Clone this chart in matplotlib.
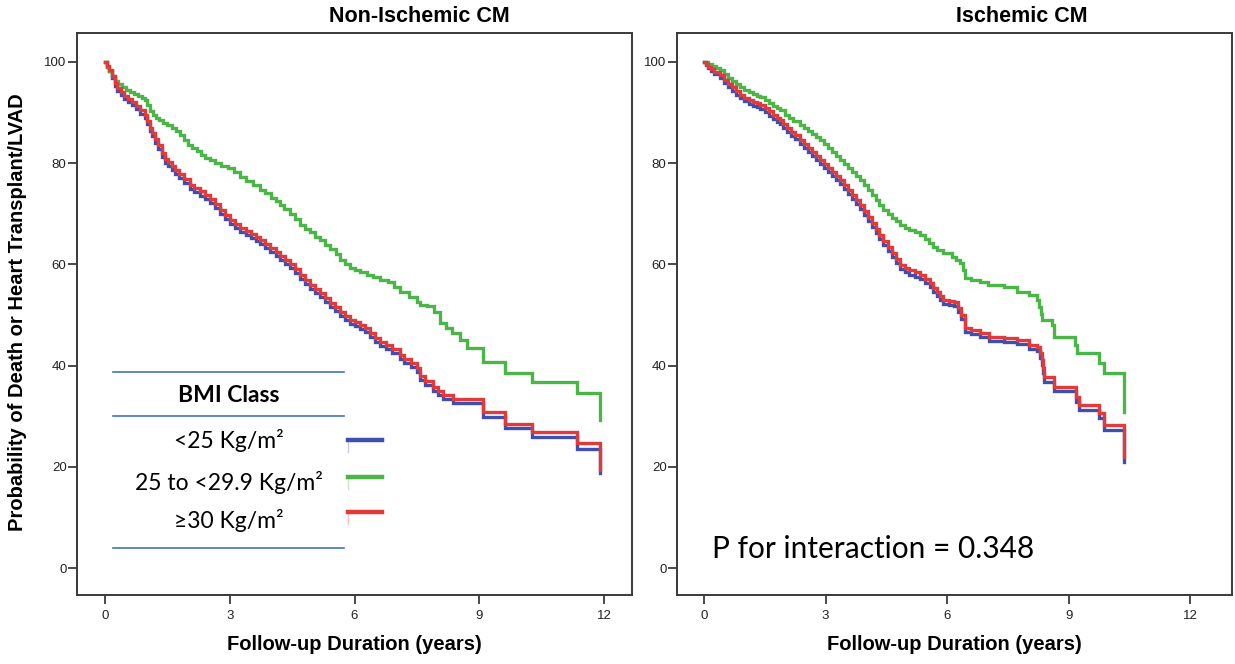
import matplotlib
matplotlib.use("Agg")
import matplotlib.pyplot as plt
from matplotlib.lines import Line2D

# ---------------- data ----------------
groups = ["<25 Kg/m²", "25 to <29.9 Kg/m²", "≥30 Kg/m²"]
panel_titles = ["Non-Ischemic CM", "Ischemic CM"]
x_ticks = [0, 3, 6, 9, 12]
y_ticks = [0, 20, 40, 60, 80, 100]

# ---- Non-Ischemic CM ----
nic_t_main = [0, .05, .1, .17, .24, .3, .38, .45, .55, .65,
              .75, .85, .96, 1.02, 1.08, 1.14, 1.2, 1.28, 1.36, 1.44,
              1.52, 1.6, 1.68, 1.78, 1.9, 2.04, 2.15, 2.28, 2.4, 2.52,
              2.64, 2.76, 2.88, 3.0, 3.12, 3.25, 3.38, 3.5, 3.62, 3.73,
              3.85, 3.97, 4.1, 4.2, 4.32, 4.45, 4.57, 4.69, 4.8, 4.93,
              5.05, 5.17, 5.28, 5.4, 5.52, 5.65, 5.78, 5.9, 6.0, 6.12,
              6.25, 6.38, 6.5, 6.62, 6.75, 6.9, 7.09, 7.2, 7.35, 7.5,
              7.57, 7.7, 7.88, 8.0, 8.13, 8.37, 9.09, 9.62, 10.26, 11.35,
              11.9]
nic_red = [100, 99.2, 98.4, 97.2, 95.8, 94.9, 94.0, 93.2, 92.6, 92.0,
           91.3, 90.5, 89.6, 88.4, 87.0, 86.0, 84.8, 83.6, 82.0, 80.8,
           80.2, 79.5, 78.7, 77.8, 76.8, 75.7, 75.1, 74.4, 73.7, 72.9,
           72.0, 70.8, 69.8, 68.8, 67.9, 67.2, 66.6, 66.0, 65.4, 64.8,
           64.0, 63.2, 62.4, 61.6, 60.9, 60.0, 59.0, 57.9, 57.0, 56.0,
           55.2, 54.3, 53.4, 52.4, 51.5, 50.6, 49.8, 49.1, 48.6, 48.1,
           47.5, 46.5, 45.4, 44.6, 44.0, 43.2, 42.2, 41.4, 40.6, 39.5,
           38.0, 37.0, 35.8, 35.0, 34.2, 33.4, 30.8, 28.5, 26.9, 24.7,
           19.4]
nic_blue = [100, 99.0, 98.1, 96.8, 95.3, 94.3, 93.4, 92.6, 92.0, 91.4,
            90.6, 89.8, 88.9, 87.7, 86.3, 85.3, 84.0, 82.8, 81.2, 80.0,
            79.4, 78.7, 77.9, 77.0, 76.0, 74.9, 74.3, 73.6, 72.9, 72.1,
            71.2, 70.0, 69.0, 68.0, 67.1, 66.4, 65.8, 65.2, 64.6, 64.0,
            63.2, 62.4, 61.6, 60.8, 60.1, 59.2, 58.2, 57.1, 56.2, 55.2,
            54.4, 53.5, 52.6, 51.6, 50.7, 49.8, 49.0, 48.3, 47.8, 47.3,
            46.7, 45.7, 44.6, 43.8, 43.2, 42.4, 41.4, 40.6, 39.8, 38.7,
            37.2, 36.2, 35.0, 34.2, 33.4, 32.6, 29.9, 27.6, 26.0, 23.5,
            18.8]
nic_t_green = [0, .05, .1, .18, .25, .32, .4, .5, .6, .7,
               .8, .9, .96, 1.02, 1.08, 1.15, 1.22, 1.3, 1.4, 1.5,
               1.6, 1.7, 1.8, 1.9, 2.0, 2.1, 2.2, 2.3, 2.4, 2.52,
               2.65, 2.8, 2.95, 3.1, 3.25, 3.4, 3.55, 3.73, 3.85, 4.0,
               4.1, 4.2, 4.3, 4.45, 4.57, 4.69, 4.8, 4.93, 5.05, 5.17,
               5.3, 5.42, 5.55, 5.65, 5.78, 5.9, 6.02, 6.13, 6.3, 6.45,
               6.6, 6.8, 6.95, 7.1, 7.3, 7.5, 7.57, 7.75, 7.9, 8.05,
               8.2, 8.35, 8.53, 8.7, 9.09, 9.62, 10.26, 11.35, 11.9]
nic_green = [100, 99.0, 98.2, 97.2, 96.3, 95.6, 95.0, 94.5, 94.0, 93.6,
             93.2, 92.8, 92.5, 91.5, 90.3, 89.5, 89.0, 88.5, 88.0, 87.5,
             87.0, 86.3, 85.5, 84.5, 83.6, 83.0, 82.3, 81.6, 81.0, 80.6,
             80.0, 79.5, 79.0, 78.3, 77.2, 76.5, 75.6, 74.7, 74.0, 73.2,
             72.5, 71.7, 71.0, 70.0, 69.0, 67.8, 67.0, 66.3, 65.5, 64.8,
             63.8, 63.0, 62.0, 60.9, 60.0, 59.3, 58.8, 58.5, 58.0, 57.6,
             57.0, 56.6, 55.5, 54.5, 53.5, 52.5, 52.0, 51.8, 50.5, 48.5,
             47.5, 46.5, 45.0, 43.5, 40.7, 38.5, 36.8, 34.6, 29.2]

# ---- Ischemic CM ----
ic_t_main = [0, .05, .1, .18, .26, .39, .5, .6, .7, .8,
             .89, 1.0, 1.1, 1.2, 1.3, 1.38, 1.5, 1.6, 1.7, 1.8,
             1.87, 1.95, 2.05, 2.15, 2.25, 2.36, 2.46, 2.56, 2.66, 2.76,
             2.86, 2.96, 3.06, 3.16, 3.26, 3.35, 3.45, 3.55, 3.65, 3.75,
             3.84, 3.94, 4.04, 4.14, 4.24, 4.33, 4.43, 4.53, 4.63, 4.73,
             4.83, 4.95, 5.07, 5.2, 5.32, 5.45, 5.57, 5.65, 5.74, 5.82,
             5.89, 6.05, 6.18, 6.27, 6.35, 6.43, 6.6, 6.8, 7.04, 7.4,
             7.73, 8.03, 8.23, 8.28, 8.33, 8.37, 8.4, 8.65, 9.19, 9.26,
             9.75, 9.88, 10.37]
ic_red = [100, 99.5, 99.0, 98.5, 98.0, 97.4, 96.5, 95.6, 95.0, 94.2,
          93.5, 92.9, 92.5, 92.1, 91.8, 91.5, 90.8, 90.2, 89.6, 89.0,
          88.5, 87.8, 87.0, 86.2, 85.5, 84.6, 83.8, 83.0, 82.2, 81.4,
          80.6, 79.8, 79.0, 78.2, 77.4, 76.7, 75.7, 74.7, 73.7, 72.7,
          71.7, 70.6, 69.4, 68.2, 67.0, 65.8, 64.6, 63.4, 62.3, 61.1,
          59.9, 59.3, 58.8, 58.4, 57.9, 57.1, 56.3, 55.4, 54.5, 53.8,
          53.0, 52.8, 52.6, 51.3, 50.0, 47.4, 47.0, 46.4, 45.7, 45.5,
          45.1, 44.1, 43.7, 42.5, 41.1, 39.5, 37.7, 35.8, 33.8, 32.2,
          30.6, 28.3, 21.9]
ic_blue = [100, 99.4, 98.8, 98.2, 97.6, 96.9, 95.9, 95.0, 94.3, 93.5,
           92.8, 92.2, 91.7, 91.3, 91.0, 90.7, 90.0, 89.4, 88.8, 88.2,
           87.7, 87.0, 86.2, 85.4, 84.7, 83.8, 83.0, 82.2, 81.4, 80.6,
           79.8, 79.0, 78.2, 77.4, 76.6, 75.9, 74.9, 73.9, 72.9, 71.9,
           70.9, 69.8, 68.6, 67.4, 66.2, 65.0, 63.8, 62.6, 61.5, 60.3,
           59.1, 58.5, 58.0, 57.6, 57.1, 56.3, 55.5, 54.6, 53.7, 53.0,
           52.2, 52.0, 51.8, 50.5, 49.2, 46.6, 46.2, 45.6, 44.9, 44.7,
           44.3, 43.2, 42.8, 41.6, 40.2, 38.6, 36.8, 34.9, 32.9, 31.3,
           29.6, 27.3, 20.9]
ic_t_green = [0, .1, .2, .3, .39, .5, .6, .7, .8, .89,
              1.0, 1.1, 1.2, 1.3, 1.38, 1.5, 1.6, 1.7, 1.8, 1.87,
              2.0, 2.1, 2.2, 2.36, 2.46, 2.56, 2.66, 2.76, 2.86, 2.96,
              3.06, 3.16, 3.26, 3.35, 3.45, 3.55, 3.65, 3.75, 3.84, 3.94,
              4.04, 4.14, 4.24, 4.33, 4.43, 4.53, 4.63, 4.73, 4.83, 4.95,
              5.07, 5.2, 5.32, 5.45, 5.55, 5.65, 5.74, 5.9, 6.13, 6.22,
              6.31, 6.38, 6.43, 6.6, 6.8, 7.0, 7.4, 7.73, 8.03, 8.23,
              8.27, 8.31, 8.35, 8.6, 8.65, 9.15, 9.21, 9.75, 9.88, 10.37]
ic_green = [100, 99.6, 99.2, 98.8, 98.4, 97.6, 96.8, 96.2, 95.6, 95.0,
            94.5, 94.0, 93.6, 93.3, 93.0, 92.4, 91.8, 91.2, 90.8, 90.5,
            89.6, 89.0, 88.4, 87.5, 86.9, 86.3, 85.7, 85.1, 84.6, 83.8,
            83.0, 82.2, 81.4, 80.6, 79.8, 79.0, 78.2, 77.4, 76.7, 75.7,
            74.7, 73.7, 72.7, 71.7, 70.8, 70.0, 69.2, 68.5, 67.8, 67.2,
            66.8, 66.3, 65.8, 65.0, 64.3, 63.5, 62.8, 62.3, 61.5, 60.9,
            60.3, 58.8, 57.3, 57.0, 56.5, 55.9, 55.6, 54.5, 54.0, 53.0,
            51.5, 50.2, 49.0, 48.0, 45.7, 44.0, 42.5, 40.5, 38.5, 30.8]

p_text = "P for interaction = 0.348"
y_label = "Probability of Death or Heart Transplant/LVAD"
x_label = "Follow-up Duration (years)"

# ---------------- style ----------------
c_blue = "#3d4fb0"
c_green = "#4bb548"
c_red = "#e23a3a"
spine_c = "#3a3a3a"
W, H = 1235, 664

fig = plt.figure(figsize=(W / 100, H / 100), dpi=100)
fig.patch.set_facecolor("white")

axL = fig.add_axes([77 / W, 1 - 595 / H, 555 / W, 562 / H])
axR = fig.add_axes([677 / W, 1 - 595 / H, 555 / W, 562 / H])


def km(ax, t, v, color, z):
    ax.plot(t, v, drawstyle="steps-post", color=color, lw=2.4, zorder=z,
            solid_joinstyle="miter")


km(axL, nic_t_main, nic_blue, c_blue, 3)
km(axL, nic_t_green, nic_green, c_green, 4)
km(axL, nic_t_main, nic_red, c_red, 5)

km(axR, ic_t_main, ic_blue, c_blue, 3)
km(axR, ic_t_green, ic_green, c_green, 4)
km(axR, ic_t_main, ic_red, c_red, 5)

for ax, xr in ((axL, (-0.673, 12.67)), (axR, (-0.665, 13.03))):
    ax.set_xlim(*xr)
    ax.set_ylim(-5.3, 105.7)
    ax.set_xticks(x_ticks)
    ax.set_yticks(y_ticks)
    ax.tick_params(direction="out", length=6.5, width=1.3, color=spine_c,
                   labelsize=9.5, labelcolor="#222222")
    ax.tick_params(axis="y", pad=1)
    ax.tick_params(axis="x", pad=4)
    for lab in ax.get_xticklabels() + ax.get_yticklabels():
        lab.set_family("Liberation Sans")
    for s in ax.spines.values():
        s.set_color(spine_c)
        s.set_linewidth(1.4)
    ax.set_xlabel(x_label, fontsize=14.5, fontweight="bold", family="Liberation Sans",
                  labelpad=10)

fig.text(18 / W, 1 - 312 / H, y_label, rotation=90, ha="center", va="center",
         fontsize=14.5, fontweight="bold", family="Liberation Sans")
fig.text(419 / W, 1 - 16 / H, panel_titles[0], ha="center", va="center",
         fontsize=15.5, fontweight="bold", family="Liberation Sans")
fig.text(1022 / W, 1 - 16 / H, panel_titles[1], ha="center", va="center",
         fontsize=15.5, fontweight="bold", family="Liberation Sans")

# legend table
tfam = ["Lato", "DejaVu Sans"]
for yy in (372, 416, 548):
    fig.add_artist(Line2D([113 / W, 344 / W], [1 - yy / H, 1 - yy / H],
                          color="#4472c4", lw=1.2))
fig.text(229 / W, 1 - 395 / H, "BMI Class", ha="center", va="center",
         fontsize=16.5, fontweight="bold", family=tfam)
legend_y = [440, 482, 521]
swatch_y = [440, 477, 512]
for name, ty, sy, col in zip(groups, legend_y, swatch_y, (c_blue, c_green, c_red)):
    fig.text(229 / W, 1 - ty / H, name, ha="center", va="center",
             fontsize=16.5, family=tfam)
    fig.add_artist(Line2D([348 / W, 382 / W], [1 - sy / H, 1 - sy / H],
                          color=col, lw=3.2))
    fig.add_artist(Line2D([348.5 / W, 348.5 / W], [1 - sy / H, 1 - (sy + 12) / H],
                          color=col, lw=1.0, alpha=0.3))

fig.text(712 / W, 1 - 549 / H, p_text, ha="left", va="center",
         fontsize=21.5, family=tfam)

fig.savefig("out.png", dpi=100, facecolor="white")
